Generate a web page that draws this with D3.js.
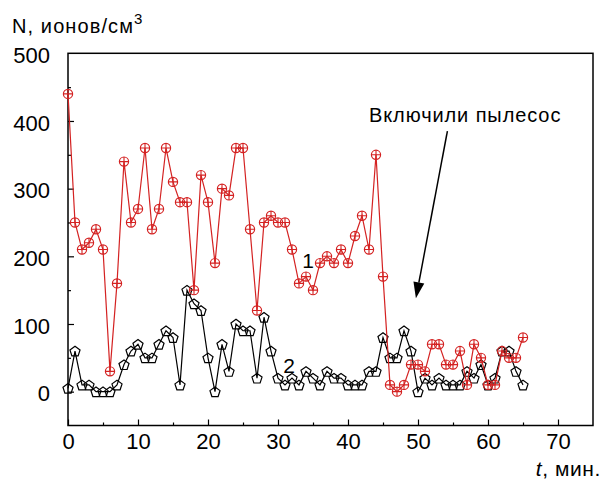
<!DOCTYPE html>
<html>
<head>
<meta charset="utf-8">
<script src="https://cdn.jsdelivr.net/npm/d3@7/dist/d3.min.js"></script>
<style>
  html, body { margin: 0; padding: 0; background: #fff; }
  svg text { font-family: "Liberation Sans", Arial, Helvetica, sans-serif; fill: #000; }
</style>
</head>
<body>
<svg id="chart" width="604" height="481"></svg>
<script>
// ---- data ----
const minutes = [0,1,2,3,4,5,6,7,8,9,10,11,12,13,14,15,16,17,18,19,20,21,22,23,24,25,26,27,28,29,30,31,32,33,34,35,36,37,38,39,40,41,42,43,44,45,46,47,48,49,50,51,52,53,54,55,56,57,58,59,60,61,62,63,64,65];
const series1 = [440,250,210,220,240,210,30,160,340,250,270,360,240,270,360,310,280,280,150,320,280,190,300,290,360,360,240,120,250,260,250,250,210,160,170,150,190,200,190,210,190,230,260,210,350,170,10,0,10,40,40,30,70,70,40,40,60,10,70,50,10,10,60,50,50,80];
const series2 = [5,60,10,10,0,0,0,10,40,60,70,50,50,70,90,80,10,150,130,120,50,0,70,30,100,90,90,20,110,60,20,10,20,10,30,20,10,30,20,20,10,10,10,30,30,80,50,50,90,60,0,20,10,20,10,10,10,30,20,40,10,20,60,60,30,10];
const xTicks = [0,10,20,30,40,50,60,70];
const xMinor = [5,15,25,35,45,55,65];
const yTicks = [0,100,200,300,400,500];
const yMinor = [50,150,250,350,450];
const yTitle = "N,  ионов/см";
const yTitleSup = "3";
const xTitleItalic = "t";
const xTitleRest = ", мин.";
const seriesLabels = [{text: "1", t: 34.3, v: 183}, {text: "2", t: 31.6, v: 28}];
const annotation = {text: "Включили пылесос", fromT: 54.2, fromV: 385, toT: 49.7, toV: 138};

// ---- layout ----
const svg = d3.select("#chart");
const x = d3.scaleLinear().domain([0, 75]).range([68, 593]);
const y = d3.scaleLinear().domain([-50, 500]).range([425.5, 53.3]);
const red = "#d42222";

// frame
svg.append("rect")
  .attr("x", x(0)).attr("y", y(500))
  .attr("width", x(75) - x(0)).attr("height", y(-50) - y(500))
  .attr("fill", "none").attr("stroke", "#000").attr("stroke-width", 1.5);

// x axis
const gx = svg.append("g").attr("transform", `translate(0,${y(-50)})`);
gx.call(d3.axisBottom(x).tickValues(xTicks).tickSize(-6).tickPadding(8).tickFormat(d3.format("d")));
const gxm = svg.append("g").attr("transform", `translate(0,${y(-50)})`);
gxm.call(d3.axisBottom(x).tickValues(xMinor).tickSize(-3).tickFormat(""));
// y axis
const gy = svg.append("g").attr("transform", `translate(${x(0)},0)`);
gy.call(d3.axisLeft(y).tickValues(yTicks).tickSize(-6).tickPadding(18).tickFormat(d3.format("d")));
const gym = svg.append("g").attr("transform", `translate(${x(0)},0)`);
gym.call(d3.axisLeft(y).tickValues(yMinor).tickSize(-3).tickFormat(""));
[gx, gxm, gy, gym].forEach(g => {
  g.select(".domain").remove();
  g.selectAll(".tick line").attr("stroke", "#000").attr("stroke-width", 1.2);
  g.selectAll("text").attr("font-size", 22).attr("fill", "#000")
    .attr("font-family", '"Liberation Sans", Arial, sans-serif');
});
gy.selectAll("text").attr("dy", "0.42em");
gy.selectAll(".tick").filter(d => d === 500).select("line").remove();

// titles
const yt = svg.append("text").attr("x", 12).attr("y", 32.7).attr("font-size", 20);
yt.append("tspan").attr("letter-spacing", 1.1).text(yTitle);
yt.append("tspan").attr("font-size", 15).attr("dy", -8.7).text(yTitleSup);

const xt = svg.append("text").attr("x", 601).attr("y", 476).attr("text-anchor", "end")
  .attr("font-size", 21).attr("letter-spacing", 0.6);
xt.append("tspan").attr("font-style", "italic").text(xTitleItalic);
xt.append("tspan").text(xTitleRest);

// lines
const line = d3.line().x((d, i) => x(minutes[i])).y(d => y(d));
svg.append("path").datum(series2).attr("d", line)
  .attr("fill", "none").attr("stroke", "#000").attr("stroke-width", 1.2);

// pentagon markers
const R = 5.3;
const pent = d3.range(5).map(k => {
  const a = -Math.PI / 2 + k * 2 * Math.PI / 5;
  return [R * Math.cos(a), R * Math.sin(a)];
});
const pentPath = "M" + pent.map(p => p.join(",")).join("L") + "Z";
svg.append("g").selectAll("path").data(series2).join("path")
  .attr("transform", (d, i) => `translate(${x(minutes[i])},${y(d) + 0.6})`)
  .attr("d", pentPath)
  .attr("fill", "none").attr("stroke", "#000").attr("stroke-width", 1.2);

svg.append("path").datum(series1).attr("d", line)
  .attr("fill", "none").attr("stroke", red).attr("stroke-width", 1.2);

const r = 4.6;
const cg = svg.append("g").selectAll("g").data(series1).join("g")
  .attr("transform", (d, i) => `translate(${x(minutes[i])},${y(d)})`);
cg.append("circle").attr("r", r).attr("fill", "none").attr("stroke", red).attr("stroke-width", 1.2);
cg.append("path").attr("d", `M${-r},0H${r}M0,${-r}V${r}`).attr("stroke", red).attr("stroke-width", 1.1);

// series labels
svg.selectAll("text.slabel").data(seriesLabels).join("text").attr("class", "slabel")
  .attr("x", d => x(d.t)).attr("y", d => y(d.v))
  .attr("text-anchor", "middle").attr("font-size", 21).text(d => d.text);

// annotation
svg.append("text").attr("x", 369).attr("y", 122).attr("font-size", 20)
  .attr("letter-spacing", 0.9).text(annotation.text);
const x1 = x(annotation.fromT), y1 = y(annotation.fromV), x2 = x(annotation.toT), y2 = y(annotation.toV);
const ang = Math.atan2(y2 - y1, x2 - x1);
const L = 16, W = 5.5;
const bx = x2 - L * Math.cos(ang), by = y2 - L * Math.sin(ang);
svg.append("line").attr("x1", x1).attr("y1", y1).attr("x2", bx).attr("y2", by)
  .attr("stroke", "#000").attr("stroke-width", 1.5);
svg.append("path")
  .attr("d", `M${x2},${y2}L${bx + W * Math.sin(ang)},${by - W * Math.cos(ang)}L${bx - W * Math.sin(ang)},${by + W * Math.cos(ang)}Z`)
  .attr("fill", "#000");
</script>
</body>
</html>
